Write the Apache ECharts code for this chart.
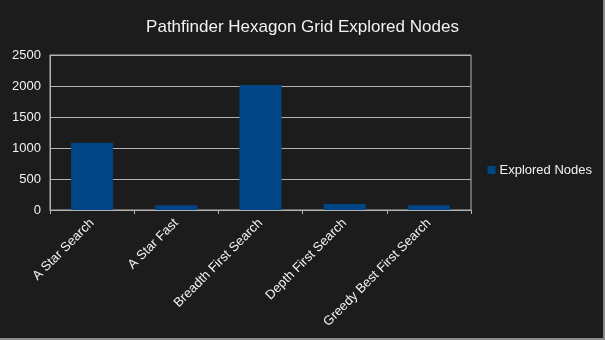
<!DOCTYPE html>
<html>
<head>
<meta charset="utf-8">
<script src="https://cdn.jsdelivr.net/npm/echarts@6/dist/echarts.min.js"></script>
<style>
html,body{margin:0;padding:0;background:#1c1c1c;}
#c{width:605px;height:340px;}
</style>
</head>
<body>
<div id="c"></div>
<script>
const categories = ["A Star Search", "A Star Fast", "Breadth First Search", "Depth First Search", "Greedy Best First Search"];
const exploredNodes = [1085, 75, 2015, 95, 75];
const yTicks = [0, 500, 1000, 1500, 2000, 2500];

const chart = echarts.init(document.getElementById('c'));
chart.setOption({
  backgroundColor: '#1c1c1c',
  animation: false,
  title: {
    text: 'Pathfinder Hexagon Grid Explored Nodes',
    left: 'center', top: 14,
    textStyle: {color: '#f2f2f2', fontSize: 17, fontWeight: 'normal', fontFamily: 'Liberation Sans'}
  },
  legend: {
    right: 8, top: 'middle', orient: 'vertical',
    itemWidth: 8, itemHeight: 8, itemGap: 5,
    icon: 'rect',
    textStyle: {color: '#f2f2f2', fontSize: 13, fontFamily: 'Liberation Sans', padding: [0,0,0,-1]},
    data: ['Explored Nodes']
  },
  grid: {left: 50, right: 134, top: 55, bottom: 130, show: true, borderColor: '#b3b3b3', borderWidth: 1},
  xAxis: {
    type: 'category', data: categories,
    axisLine: {lineStyle: {color: '#b3b3b3'}},
    axisTick: {show: true, length: 4, lineStyle: {color: '#b3b3b3'}},
    axisLabel: {rotate: 45, color: '#f2f2f2', fontSize: 13, fontFamily: 'Liberation Sans', margin: 11, interval: 0}
  },
  yAxis: {
    type: 'value', min: yTicks[0], max: yTicks[yTicks.length-1], interval: 500,
    axisLine: {show: true, lineStyle: {color: '#b3b3b3'}},
    axisTick: {show: false},
    splitLine: {lineStyle: {color: '#b3b3b3'}},
    axisLabel: {color: '#f2f2f2', fontSize: 13, fontFamily: 'Liberation Sans', margin: 9, formatter: v => String(v)}
  },
  series: [{
    name: 'Explored Nodes', type: 'bar', data: exploredNodes,
    barCategoryGap: '50%',
    itemStyle: {color: '#004586'}
  }],
  graphic: [
    {type: 'rect', shape: {x: 603, y: 0, width: 2, height: 340}, style: {fill: '#8a8a8a'}, silent: true},
    {type: 'rect', shape: {x: 0, y: 338, width: 605, height: 2}, style: {fill: '#8a8a8a'}, silent: true}
  ]
});
</script>
</body>
</html>
